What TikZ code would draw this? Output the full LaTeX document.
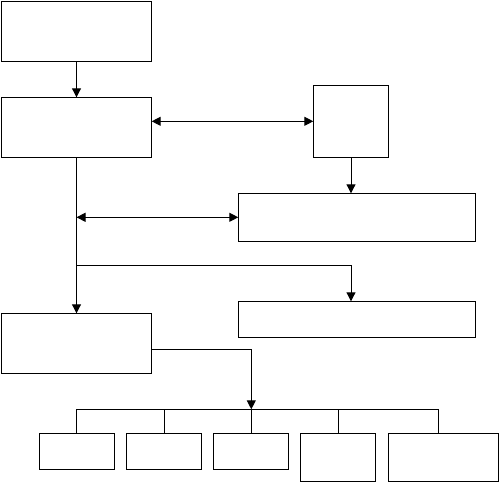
\documentclass[tikz,border=0pt]{standalone}
\usetikzlibrary{arrows.meta}
\begin{document}
\begin{tikzpicture}[x=1pt,y=-1pt,
  box/.style={draw,line width=1pt,inner sep=0pt,outer sep=0pt,rectangle},
  ln/.style={line width=1pt},
  arr/.style={ln,-{Triangle[length=9pt,width=9pt]}},
  darr/.style={ln,{Triangle[length=9pt,width=9pt]}-{Triangle[length=9pt,width=9pt]}}]
\useasboundingbox (0,0) rectangle (499,483);
% boxes
\node[box,minimum width=150.4,minimum height=60] (A) at (76.5,31.3) {};
\node[box,minimum width=150.4,minimum height=60] (B) at (76.5,127.3) {};
\node[box,minimum width=75.4,minimum height=72] (C) at (351,121.3) {};
\node[box,minimum width=237.4,minimum height=48] (D) at (357,217.3) {};
\node[box,minimum width=237.4,minimum height=36] (F) at (357,319.3) {};
\node[box,minimum width=150.4,minimum height=60] (E) at (76.5,343.3) {};
\node[box,minimum width=75.4,minimum height=36] (S1) at (77,451.3) {};
\node[box,minimum width=75.4,minimum height=36] (S2) at (164,451.3) {};
\node[box,minimum width=75.4,minimum height=36] (S3) at (251,451.3) {};
\node[box,minimum width=75,minimum height=48] (S4) at (338.2,457.3) {};
\node[box,minimum width=110.4,minimum height=48] (S5) at (443.5,457.3) {};
% coordinates
\coordinate (t1) at (B.south |- D.west);
\coordinate (t2) at (76.5,265.3);
\coordinate (fN) at (C.south |- F.north);
\coordinate (bus) at (251.3,409.3);
\coordinate (busL) at (76.7,409.3);
\coordinate (busR) at (438.3,409.3);
% connectors
\draw[arr] (A) -- (B);
\draw[darr] (B.east |- C.west) -- (C.west);
\draw[arr] (C.south) -- (C.south |- D.north);
\draw[arr] (B.south) -- (E.north);
\draw[darr] (t1) -- (D.west);
\draw[arr] (t2) -| (fN);
\draw[arr] ([yshift=-6pt]E.east) -| (bus);
\draw[ln] (busL) -- (busR);
\draw[ln] (busL) -- (busL |- S1.north);
\draw[ln] (S2.north |- bus) -- (S2.north);
\draw[ln] (bus) -- (bus |- S3.north);
\draw[ln] (S4.north |- bus) -- (S4.north);
\draw[ln] (busR) -- (busR |- S5.north);
\end{tikzpicture}
\end{document}
